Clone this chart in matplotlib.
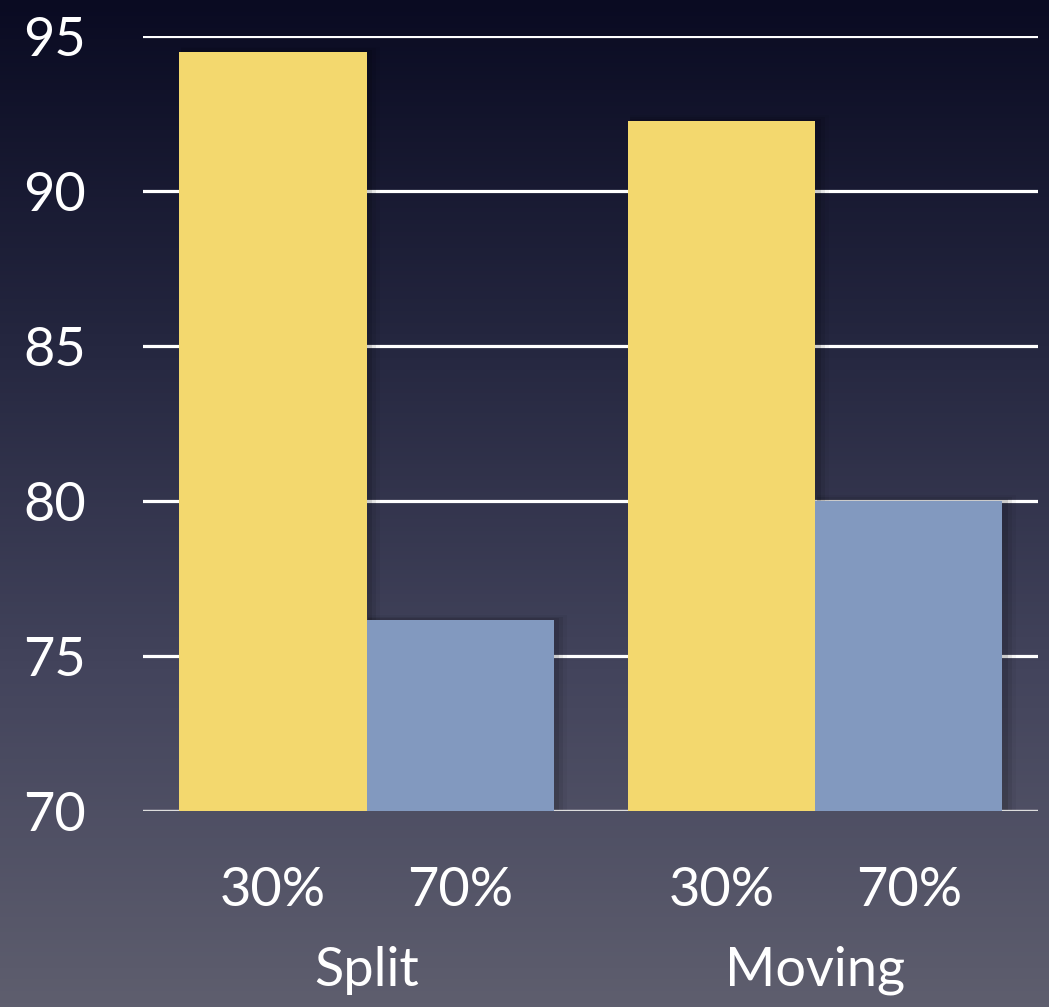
import numpy as np
import matplotlib
matplotlib.use("Agg")
import matplotlib.pyplot as plt
from matplotlib.patches import Rectangle
from matplotlib.colors import LinearSegmentedColormap

# Accuracy by sample fraction for each method
groups = ["Split", "Moving"]
fractions = ["30%", "70%"]
values_30 = [94.48, 92.26]
values_70 = [76.15, 80.0]
y_ticks = [70, 75, 80, 85, 90, 95]

plt.rcParams["font.family"] = ["Lato", "DejaVu Sans"]

W, H = 1049, 1007
fig = plt.figure(figsize=(W / 100, H / 100), dpi=100)

# Background vertical gradient
bg = fig.add_axes([0, 0, 1, 1], zorder=0)
grad = np.linspace(0, 1, 256).reshape(-1, 1)
cmap = LinearSegmentedColormap.from_list(
    "bg", ["#0a0b22", "#24263f", "#43445c", "#5e5e6e"])
bg.imshow(grad, aspect="auto", cmap=cmap, extent=[0, 1, 0, 1], origin="upper")
bg.set_axis_off()

left, right = 143 / W, 1038 / W
bottom, top = 1 - 811 / H, 1 - 36 / H
ax = fig.add_axes([left, bottom, right - left, top - bottom], zorder=1)
ax.patch.set_alpha(0)

bar_w = 1.0
gap = 2.4
pos_30 = [0.0, gap]
pos_70 = [1.0, gap + 1.0]

ax.set_xlim(-0.695, 4.09)
ax.set_ylim(70, 95)

# Gridlines
for t in y_ticks:
    ax.axhline(t, color="white", lw=2.3, zorder=1)

yellow = "#f3d86e"
blue = "#8299bf"

def shaded_bar(x, v, color):
    # soft drop shadow behind each bar
    for i, a in enumerate([0.10, 0.07, 0.04]):
        d = 0.02 * (i + 1)
        ax.add_patch(Rectangle((x - bar_w / 2 + 0.01, 70), bar_w + d,
                               v - 70 + d * 3, color="black", alpha=a,
                               lw=0, zorder=2))
    ax.bar(x, v - 70, bottom=70, width=bar_w, color=color, lw=0, zorder=3)

for x, v in zip(pos_30, values_30):
    shaded_bar(x, v, yellow)
for x, v in zip(pos_70, values_70):
    shaded_bar(x, v, blue)

# redraw baseline above shadows
ax.axhline(70, color="#dddddd", lw=2.3, zorder=2.5)

for s in ax.spines.values():
    s.set_visible(False)
ax.set_xticks([])
ax.set_yticks(y_ticks)
ax.set_yticklabels([str(t) for t in y_ticks], fontsize=39, color="white")
ax.tick_params(axis="y", length=0, pad=41)

# Category labels below the bars
for p30, p70, g in zip(pos_30, pos_70, groups):
    ax.text(p30, 67.45, fractions[0], ha="center", va="center",
            fontsize=39, color="white", clip_on=False)
    ax.text(p70, 67.45, fractions[1], ha="center", va="center",
            fontsize=39, color="white", clip_on=False)
    ax.text((p30 + p70) / 2, 64.85, g, ha="center", va="center",
            fontsize=39, color="white", clip_on=False)

fig.savefig("out.png", dpi=100)
